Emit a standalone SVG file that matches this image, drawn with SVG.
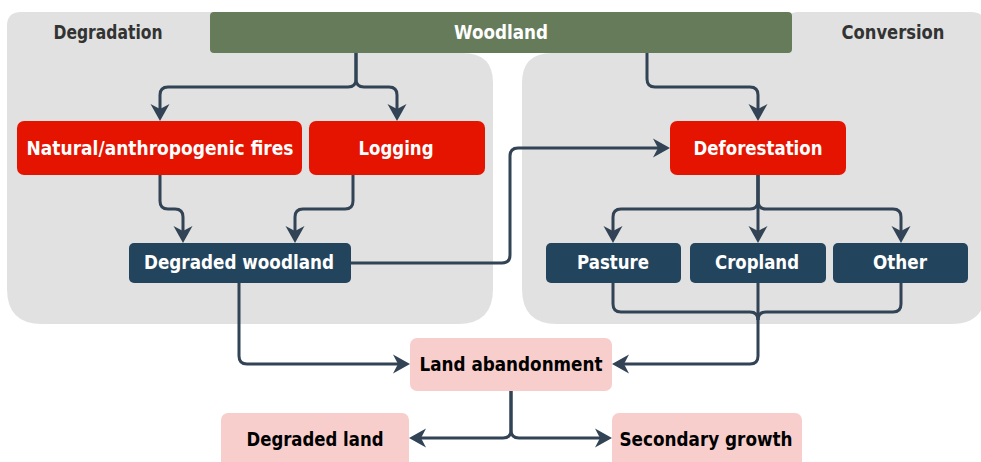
<svg xmlns="http://www.w3.org/2000/svg" width="981" height="462" viewBox="0 0 981 462">
<style>
.panel{fill:#e1e1e1}
.lbl{font-family:"DejaVu Sans","Liberation Sans",sans-serif;font-weight:bold;font-size:19px;text-anchor:middle}
.w{fill:#ffffff}
.k{fill:#000000}
.g{fill:#333333}
.red{fill:#e51400}
.blue{fill:#23445d}
.pink{fill:#f8cecc}
.conn path{fill:none;stroke:#314354;stroke-width:3}
</style>
<defs>
<marker id="arr" viewBox="-20 -11 22 22" refX="-6" refY="0" markerWidth="22" markerHeight="22" markerUnits="userSpaceOnUse" orient="auto">
<path d="M0,0 L-17,-9.5 L-12,0 L-17,9.5 Z" fill="#314354"/>
</marker>
</defs>
<g id="degradation-panel">
<path class="panel" d="M215,53 V12 H21 Q7,12 7,26 V289 Q7,324 42,324 H458 Q493,324 493,289 V83 Q493,53 463,53 Z"/>
<text class="lbl g" x="108" y="39" textLength="109" lengthAdjust="spacingAndGlyphs">Degradation</text>
</g>
<g id="conversion-panel">
<path class="panel" d="M787,53 V22 Q787,12 797,12 H971 Q986,12 986,27 V289 Q986,324 951,324 H557 Q522,324 522,289 V83 Q522,53 552,53 Z"/>
<text class="lbl g" x="893" y="39" textLength="103" lengthAdjust="spacingAndGlyphs">Conversion</text>
</g>
<g id="woodland">
<rect x="210" y="12" width="582" height="41" rx="4" fill="#657b5a"/>
<text class="lbl w" x="501" y="39" textLength="94" lengthAdjust="spacingAndGlyphs">Woodland</text>
</g>
<g id="fires">
<rect class="red" x="17" y="121" width="285" height="54" rx="7"/>
<text class="lbl w" x="160" y="155" textLength="267" lengthAdjust="spacingAndGlyphs">Natural/anthropogenic fires</text>
</g>
<g id="logging">
<rect class="red" x="309" y="121" width="176" height="54" rx="7"/>
<text class="lbl w" x="396" y="155" textLength="75" lengthAdjust="spacingAndGlyphs">Logging</text>
</g>
<g id="deforestation">
<rect class="red" x="670" y="121" width="176" height="54" rx="7"/>
<text class="lbl w" x="758" y="155" textLength="129" lengthAdjust="spacingAndGlyphs">Deforestation</text>
</g>
<g id="degraded-woodland">
<rect class="blue" x="129" y="243" width="222" height="40" rx="5"/>
<text class="lbl w" x="239" y="269" textLength="190" lengthAdjust="spacingAndGlyphs">Degraded woodland</text>
</g>
<g id="pasture">
<rect class="blue" x="546" y="243" width="135" height="40" rx="5"/>
<text class="lbl w" x="613" y="269" textLength="72" lengthAdjust="spacingAndGlyphs">Pasture</text>
</g>
<g id="cropland">
<rect class="blue" x="690" y="243" width="136" height="40" rx="5"/>
<text class="lbl w" x="757" y="269" textLength="84" lengthAdjust="spacingAndGlyphs">Cropland</text>
</g>
<g id="other">
<rect class="blue" x="833" y="243" width="135" height="40" rx="5"/>
<text class="lbl w" x="900" y="269" textLength="54" lengthAdjust="spacingAndGlyphs">Other</text>
</g>
<g id="land-abandonment">
<rect class="pink" x="410" y="338" width="202" height="53" rx="7"/>
<text class="lbl k" x="511" y="371" textLength="183" lengthAdjust="spacingAndGlyphs">Land abandonment</text>
</g>
<g id="degraded-land">
<rect class="pink" x="221" y="413" width="188" height="62" rx="7"/>
<text class="lbl k" x="315" y="446" textLength="137" lengthAdjust="spacingAndGlyphs">Degraded land</text>
</g>
<g id="secondary-growth">
<rect class="pink" x="612" y="413" width="190" height="62" rx="7"/>
<text class="lbl k" x="706" y="446" textLength="173" lengthAdjust="spacingAndGlyphs">Secondary growth</text>
</g>
<g id="connectors" class="conn">
<path d="M356,53 V79 Q356,87 348,87 H168 Q160,87 160,95 V115" marker-end="url(#arr)"/>
<path d="M356,53 V79 Q356,87 364,87 H389 Q397,87 397,95 V115" marker-end="url(#arr)"/>
<path d="M647,53 V79 Q647,87 655,87 H750 Q758,87 758,95 V115" marker-end="url(#arr)"/>
<path d="M160,175 V201 Q160,209 168,209 H175 Q183,209 183,217 V237" marker-end="url(#arr)"/>
<path d="M353,175 V201 Q353,209 345,209 H303 Q295,209 295,217 V237" marker-end="url(#arr)"/>
<path d="M351,263 H502 Q510,263 510,255 V156 Q510,148 518,148 H664" marker-end="url(#arr)"/>
<path d="M758,175 V201 Q758,209 750,209 H621 Q613,209 613,217 V237" marker-end="url(#arr)"/>
<path d="M758,175 V237" marker-end="url(#arr)"/>
<path d="M758,175 V201 Q758,209 766,209 H893 Q901,209 901,217 V237" marker-end="url(#arr)"/>
<path d="M613,283 V304 Q613,312 621,312 H750 Q758,312 758,320"/>
<path d="M901,283 V304 Q901,312 893,312 H766 Q758,312 758,320"/>
<path d="M758,283 V356 Q758,364 750,364 H618" marker-end="url(#arr)"/>
<path d="M239,283 V356 Q239,364 247,364 H404" marker-end="url(#arr)"/>
<path d="M511,391 V430 Q511,438 503,438 H415" marker-end="url(#arr)"/>
<path d="M511,391 V430 Q511,438 519,438 H606" marker-end="url(#arr)"/>
</g>
</svg>
